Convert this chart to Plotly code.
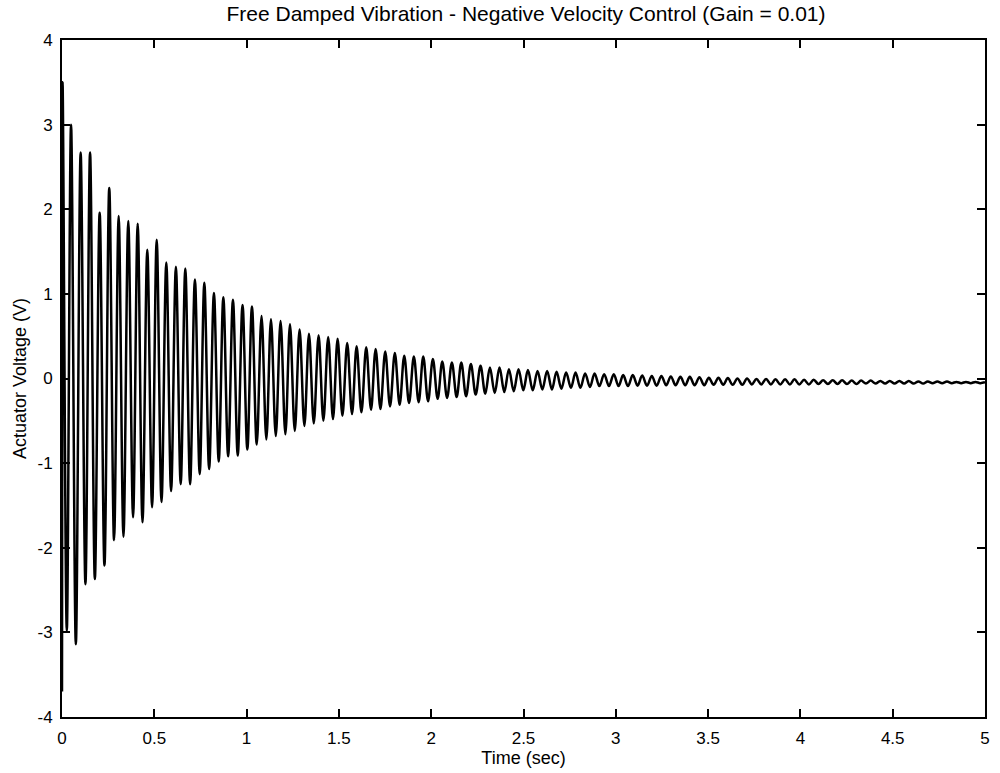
import plotly.graph_objects as go

# ---- data ----
start_time = [0.0]
start_value = [-3.70]

peak_times = [0.003, 0.049, 0.101, 0.152, 0.204, 0.256, 0.307, 0.359, 0.410, 0.462,
              0.513, 0.565, 0.617, 0.668, 0.720, 0.771, 0.823, 0.874, 0.926, 0.978,
              1.029, 1.081, 1.132, 1.184, 1.235, 1.287, 1.338, 1.390, 1.442, 1.493,
              1.545, 1.596, 1.648, 1.699, 1.751, 1.803, 1.854, 1.906, 1.957, 2.009,
              2.060, 2.112, 2.163, 2.215, 2.267, 2.318, 2.370, 2.421, 2.473, 2.524,
              2.576, 2.628, 2.679, 2.731, 2.782, 2.834, 2.885, 2.937, 2.989, 3.040,
              3.092, 3.143, 3.195, 3.247, 3.298, 3.350, 3.401, 3.453, 3.504, 3.556,
              3.607, 3.659, 3.711, 3.762, 3.814, 3.865, 3.917, 3.968, 4.020, 4.072,
              4.123, 4.175, 4.226, 4.278, 4.329, 4.381, 4.433, 4.484, 4.536, 4.587,
              4.639, 4.690, 4.742, 4.794, 4.845, 4.897, 4.948, 5.000]

peak_values = [3.50, 3.00, 2.67, 2.67, 1.96, 2.25, 1.92, 1.86, 1.83, 1.52,
               1.64, 1.37, 1.32, 1.30, 1.17, 1.13, 1.01, 0.96, 0.93, 0.87,
               0.85, 0.74, 0.70, 0.68, 0.64, 0.58, 0.53, 0.51, 0.49, 0.47,
               0.42, 0.38, 0.37, 0.35, 0.32, 0.30, 0.27, 0.26, 0.26, 0.23,
               0.20, 0.19, 0.19, 0.17, 0.15, 0.13, 0.13, 0.11, 0.11, 0.10,
               0.09, 0.09, 0.08, 0.07, 0.07, 0.06, 0.06, 0.05, 0.05, 0.04,
               0.04, 0.035, 0.03, 0.03, 0.025, 0.02, 0.02, 0.015, 0.01, 0.01,
               0.005, 0.0, 0.0, -0.005, -0.005, -0.01, -0.01, -0.01, -0.015, -0.015,
               -0.02, -0.02, -0.02, -0.025, -0.025, -0.025, -0.03, -0.03, -0.03, -0.03,
               -0.035, -0.035, -0.035, -0.035, -0.04, -0.04, -0.04, -0.045]

trough_times = [0.026, 0.075, 0.127, 0.178, 0.230, 0.282, 0.333, 0.385, 0.436, 0.488,
                0.539, 0.591, 0.643, 0.694, 0.746, 0.797, 0.849, 0.900, 0.952, 1.004,
                1.055, 1.107, 1.158, 1.210, 1.261, 1.313, 1.364, 1.416, 1.468, 1.519,
                1.571, 1.622, 1.674, 1.725, 1.777, 1.829, 1.880, 1.932, 1.983, 2.035,
                2.086, 2.138, 2.189, 2.241, 2.293, 2.344, 2.396, 2.447, 2.499, 2.550,
                2.602, 2.654, 2.705, 2.757, 2.808, 2.860, 2.911, 2.963, 3.015, 3.066,
                3.118, 3.169, 3.221, 3.273, 3.324, 3.376, 3.427, 3.479, 3.530, 3.582,
                3.633, 3.685, 3.737, 3.788, 3.840, 3.891, 3.943, 3.994, 4.046, 4.098,
                4.149, 4.201, 4.252, 4.304, 4.355, 4.407, 4.459, 4.510, 4.562, 4.613,
                4.665, 4.716, 4.768, 4.820, 4.871, 4.923, 4.974]

trough_values = [-2.98, -3.14, -2.43, -2.37, -2.21, -1.91, -1.87, -1.64, -1.70, -1.52,
                 -1.46, -1.33, -1.25, -1.25, -1.13, -1.07, -0.98, -0.92, -0.91, -0.84,
                 -0.78, -0.72, -0.68, -0.66, -0.62, -0.56, -0.53, -0.50, -0.48, -0.44,
                 -0.42, -0.40, -0.37, -0.36, -0.33, -0.31, -0.29, -0.28, -0.27, -0.24,
                 -0.23, -0.22, -0.21, -0.19, -0.18, -0.17, -0.16, -0.15, -0.14, -0.14,
                 -0.13, -0.13, -0.12, -0.11, -0.11, -0.10, -0.09, -0.09, -0.09, -0.09,
                 -0.085, -0.085, -0.085, -0.08, -0.08, -0.08, -0.08, -0.08, -0.075, -0.075,
                 -0.075, -0.075, -0.07, -0.07, -0.07, -0.07, -0.07, -0.07, -0.07, -0.065,
                 -0.065, -0.065, -0.065, -0.065, -0.06, -0.06, -0.06, -0.06, -0.06, -0.06,
                 -0.06, -0.055, -0.055, -0.055, -0.055, -0.055, -0.055]

x_tick_vals = [0, 0.5, 1, 1.5, 2, 2.5, 3, 3.5, 4, 4.5, 5]
x_tick_text = ["0", "0.5", "1", "1.5", "2", "2.5", "3", "3.5", "4", "4.5", "5"]
y_tick_vals = [-4, -3, -2, -1, 0, 1, 2, 3, 4]
y_tick_text = ["-4", "-3", "-2", "-1", "0", "1", "2", "3", "4"]

# ---- merge extrema in time order ----
pts = list(zip(start_time, start_value)) + list(zip(peak_times, peak_values)) + list(zip(trough_times, trough_values))
pts.sort(key=lambda p: p[0])
t = [p[0] for p in pts]
v = [p[1] for p in pts]

font_family = "Liberation Sans, Arial, Helvetica, sans-serif"

fig = go.Figure()
fig.add_trace(go.Scatter(x=t, y=v, mode="lines",
                         line=dict(color="black", width=2.5, shape="spline", smoothing=1.0),
                         showlegend=False, hoverinfo="skip"))

axis_common = dict(showline=True, linecolor="black", linewidth=2, mirror="ticks",
                   ticks="inside", ticklen=8, tickwidth=1.5, tickcolor="black",
                   showgrid=False, zeroline=False,
                   tickfont=dict(family=font_family, size=17, color="black"))

fig.update_xaxes(range=[0, 5], tickvals=x_tick_vals, ticktext=x_tick_text,
                 ticklabelstandoff=5,
                 title=dict(text="Time (sec)", font=dict(family=font_family, size=18, color="black"),
                            standoff=2),
                 **axis_common)
fig.update_yaxes(range=[-4, 4], tickvals=y_tick_vals, ticktext=y_tick_text,
                 ticklabelstandoff=4,
                 title=dict(text="Actuator Voltage (V)", font=dict(family=font_family, size=18, color="black"),
                            standoff=6),
                 **axis_common)

fig.update_layout(
    width=1000, height=773,
    margin=dict(l=62, r=10, t=40, b=55),
    paper_bgcolor="white", plot_bgcolor="white",
    title=dict(text="Free Damped Vibration - Negative Velocity Control (Gain = 0.01)",
               x=0.526, xanchor="center", y=0.982, yanchor="middle",
               font=dict(family=font_family, size=21, color="black")),
)

fig.write_html("out.html")
